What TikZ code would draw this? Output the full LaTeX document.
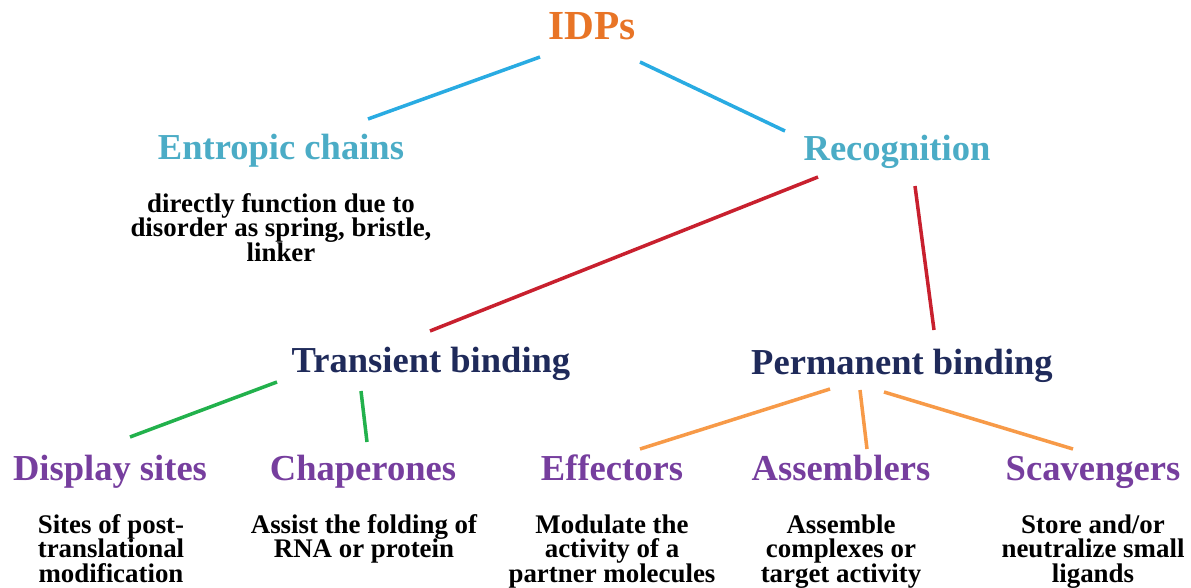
\documentclass[tikz,border=0pt]{standalone}
\usepackage{fontspec}
\setmainfont{Liberation Serif}

\definecolor{idporange}{RGB}{232,116,38}
\definecolor{tealtitle}{RGB}{75,172,198}
\definecolor{skyline}{RGB}{41,171,226}
\definecolor{redline}{RGB}{200,32,46}
\definecolor{navytitle}{RGB}{31,42,90}
\definecolor{greenline}{RGB}{34,177,76}
\definecolor{orangeline}{RGB}{247,154,72}
\definecolor{purpletitle}{RGB}{118,62,158}

\begin{document}
\begin{tikzpicture}[x=0.02cm, y=-0.02cm]

\tikzstyle root=[anchor=base, inner sep=0, text=idporange, font=\bfseries\fontsize{23.5}{28}\selectfont]
\tikzstyle branch=[anchor=base, inner sep=0, text=tealtitle, font=\bfseries\fontsize{20.8}{25}\selectfont]
\tikzstyle bind=[anchor=base, inner sep=0, text=navytitle, font=\bfseries\fontsize{20.8}{25}\selectfont]
\tikzstyle role=[anchor=base, inner sep=0, text=purpletitle, font=\bfseries\fontsize{20.8}{25}\selectfont]
\tikzstyle desc=[anchor=north, inner sep=0, align=center, font=\bfseries\fontsize{15.3}{14}\selectfont]
\tikzstyle link=[line width=2pt]

\useasboundingbox (0,0) rectangle (1191,588);

\node (idp) [root] at (592,40) {IDPs};

\node (ent) [branch] at (281,160) {Entropic chains};
\node (rec) [branch] at (897,161) {Recognition};
\node (entd) [desc] at (281,193) {directly function due to\\disorder as spring, bristle,\\linker};

\node (tra) [bind] at (431,372) {Transient binding};
\node (per) [bind] at (902,374) {Permanent binding};

\node (dis) [role] at (110,480)  {Display sites};
\node (cha) [role] at (363,480)  {Chaperones};
\node (eff) [role] at (612,480)  {Effectors};
\node (ass) [role] at (841,480)  {Assemblers};
\node (sca) [role] at (1093,480) {Scavengers};

\node (disd) [desc] at (111,514)  {Sites of post-\\translational\\modification};
\node (chad) [desc] at (364,514)  {Assist the folding of\\RNA or protein};
\node (effd) [desc] at (612,514)  {Modulate the\\activity of a\\partner molecules};
\node (assd) [desc] at (841,514)  {Assemble\\complexes or\\target activity};
\node (scad) [desc] at (1093,514) {Store and/or\\neutralize small\\ligands};

% IDPs
\draw [link, skyline] ([shift={(-52,17)}]idp.base) -- ([shift={(87,-41)}]ent.base);
\draw [link, skyline] ([shift={(48,22)}]idp.base) -- ([shift={(-112,-30)}]rec.base);

% recognition
\draw [link, redline] ([shift={(-79,16)}]rec.base) -- ([shift={(-1,-41)}]tra.base);
\draw [link, redline] ([shift={(18,25)}]rec.base) -- ([shift={(32,-44)}]per.base);

% binding
\draw [link, greenline] ([shift={(-154,10)}]tra.base) -- ([shift={(20,-43)}]dis.base);
\draw [link, greenline] ([shift={(-70,19)}]tra.base) -- ([shift={(4,-38)}]cha.base);

\draw [link, orangeline] ([shift={(-72,15)}]per.base) -- ([shift={(28,-31)}]eff.base);
\draw [link, orangeline] ([shift={(-42,16)}]per.base) -- ([shift={(26,-31)}]ass.base);
\draw [link, orangeline] ([shift={(-18,18)}]per.base) -- ([shift={(-20,-31)}]sca.base);

\end{tikzpicture}
\end{document}
